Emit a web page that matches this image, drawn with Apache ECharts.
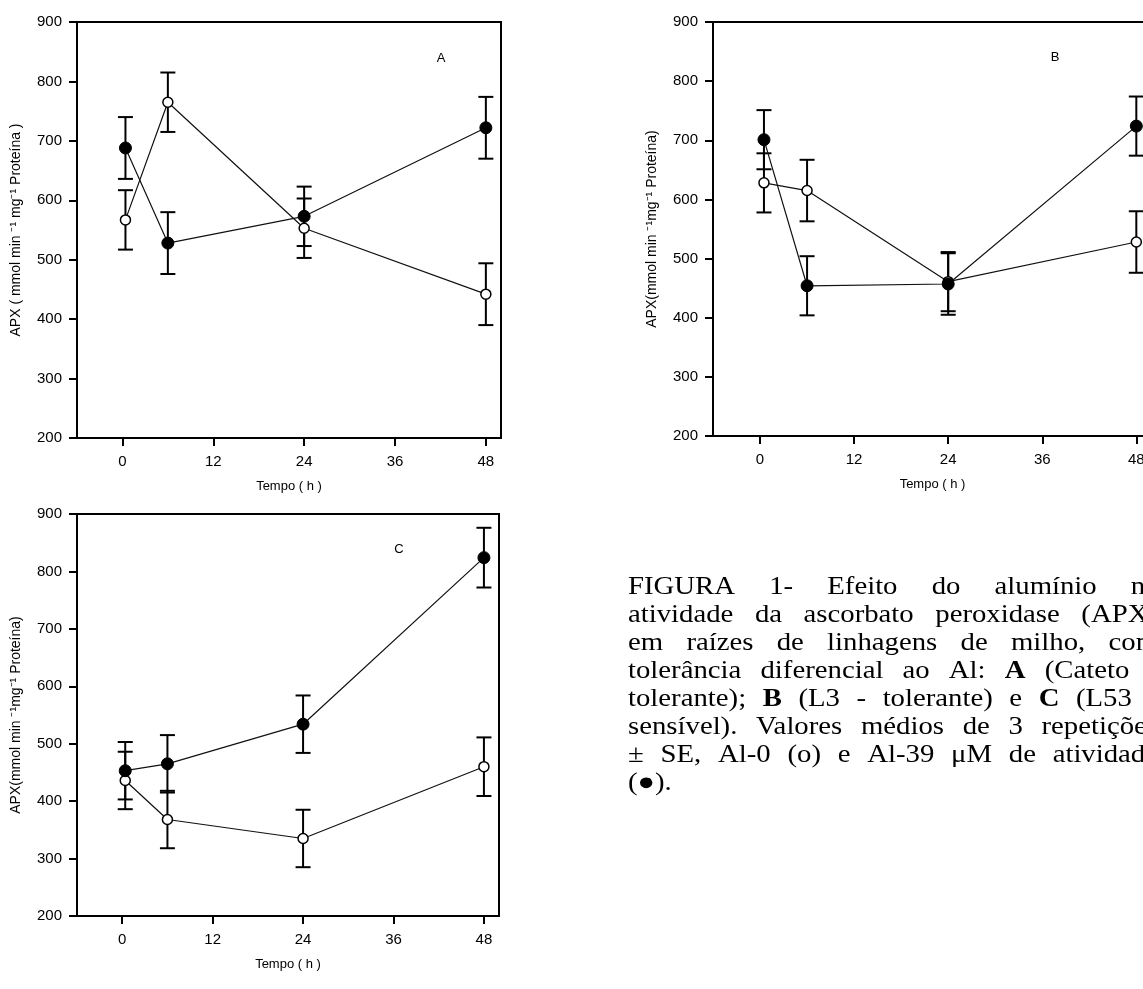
<!DOCTYPE html>
<html><head><meta charset="utf-8">
<script src="https://cdn.jsdelivr.net/npm/echarts@6/dist/echarts.min.js"></script>
<style>html,body{margin:0;padding:0;background:#fff}#c{width:1143px;height:989px}</style>
</head><body><div id="c"></div>
<script>
// ---- data ----
const xTicks = [0, 12, 24, 36, 48];
const yTicks = [200, 300, 400, 500, 600, 700, 800, 900];

const timeA = [0.4, 6, 24, 48];
const filledA = [688, 528, 573, 722];
const filledA_se = [52, 52, 50, 52];
const openA = [567, 765, 553, 442];
const openA_se = [50, 50, 50, 52];

const timeB = [0.5, 6, 24, 48];
const filledB = [701, 454, 457, 724];
const filledB_se = [50, 50, 52, 50];
const openB = [628, 615, 461, 528];
const openB_se = [50, 52, 50, 52];

const timeC = [0.4, 6, 24, 48];
const filledC = [453, 465, 534, 824];
const filledC_se = [50, 50, 50, 52];
const openC = [436, 368, 335, 460];
const openC_se = [50, 50, 50, 51];

const panelLetters = ['A', 'B', 'C'];
const yNames = ['APX ( mmol min \u207B\u00B9 mg\u207B\u00B9 Proteína )', 'APX(mmol min \u207B\u00B9mg\u207B\u00B9 Proteína)', 'APX(mmol min \u207B\u00B9mg\u207B\u00B9 Proteína)'];
const xName = 'Tempo ( h )';

const captionLines = [
  ['FIGURA','1-','Efeito','do','alumínio','na'],
  ['atividade','da','ascorbato','peroxidase','(APX)'],
  ['em','raízes','de','linhagens','de','milho,','com'],
  ['tolerância','diferencial','ao','Al:','*A','(Cateto','-'],
  ['tolerante);','*B','(L3','-','tolerante)','e','*C','(L53','-'],
  ['sensível).','Valores','médios','de','3','repetições'],
  ['±','SE,','Al-0','(o)','e','Al-39','μM','de','atividade'],
  ['(●).']
];

// ---- layout ----
const grids = [
  {left: 77, top: 22, width: 424, height: 416},
  {left: 713, top: 22, width: 439, height: 414},
  {left: 77, top: 514, width: 422, height: 402}
];
const panels = [
  {t: timeA, f: filledA, fse: filledA_se, o: openA, ose: openA_se},
  {t: timeB, f: filledB, fse: filledB_se, o: openB, ose: openB_se},
  {t: timeC, f: filledC, fse: filledC_se, o: openC, ose: openC_se}
];

const chart = echarts.init(document.getElementById('c'), null, {renderer: 'canvas'});

const xAxes = [], yAxes = [], series = [];
grids.forEach((g, i) => {
  xAxes.push({
    type: 'value', gridIndex: i, min: -6, max: 50,
    name: xName, nameLocation: 'middle', nameGap: 42,
    nameTextStyle: {fontFamily: 'Liberation Sans', fontSize: 13, color: '#000'},
    axisLine: {show: true, onZero: false, lineStyle: {color: '#000', width: 2}},
    axisTick: {show: true, length: 8, lineStyle: {color: '#000', width: 2}, customValues: xTicks},
    axisLabel: {margin: 16, fontFamily: 'Liberation Sans', fontSize: 15, color: '#000', customValues: xTicks},
    splitLine: {show: false}
  });
  yAxes.push({
    type: 'value', gridIndex: i, min: 200, max: 900, interval: 100,
    name: yNames[i], nameLocation: 'middle', nameGap: 54, nameRotate: 90,
    nameTextStyle: {fontFamily: 'Liberation Sans', fontSize: 14, color: '#000'},
    axisLine: {show: true, onZero: false, lineStyle: {color: '#000', width: 2}},
    axisTick: {show: true, length: 8, lineStyle: {color: '#000', width: 2}},
    axisLabel: {margin: 15, fontFamily: 'Liberation Sans', fontSize: 15, color: '#000'},
    splitLine: {show: false}
  });
  const p = panels[i];
  const errData = (vals, se) => p.t.map((x, k) => [x, vals[k] - se[k], vals[k] + se[k]]);
  const errSeries = (data) => ({
    type: 'custom', xAxisIndex: i, yAxisIndex: i, z: 1, silent: true,
    data: data,
    renderItem: (params, api) => {
      const x = api.value(0);
      const lo = api.coord([x, api.value(1)]);
      const hi = api.coord([x, api.value(2)]);
      const w = 7.5;
      const st = {stroke: '#000', lineWidth: 2};
      return {type: 'group', children: [
        {type: 'line', shape: {x1: hi[0], y1: hi[1], x2: lo[0], y2: lo[1]}, style: st},
        {type: 'line', shape: {x1: hi[0] - w, y1: hi[1], x2: hi[0] + w, y2: hi[1]}, style: st},
        {type: 'line', shape: {x1: lo[0] - w, y1: lo[1], x2: lo[0] + w, y2: lo[1]}, style: st}
      ]};
    }
  });
  series.push(errSeries(errData(p.o, p.ose)));
  series.push(errSeries(errData(p.f, p.fse)));
  series.push({
    type: 'line', xAxisIndex: i, yAxisIndex: i, z: 2,
    data: p.t.map((x, k) => [x, p.o[k]]),
    symbol: 'circle', symbolSize: 10, showAllSymbol: true,
    lineStyle: {color: '#111', width: 1.2},
    itemStyle: {color: '#fff', borderColor: '#000', borderWidth: 1.5},
    emphasis: {disabled: true}, animation: false
  });
  series.push({
    type: 'line', xAxisIndex: i, yAxisIndex: i, z: 3,
    data: p.t.map((x, k) => [x, p.f[k]]),
    symbol: 'circle', symbolSize: 12, showAllSymbol: true,
    lineStyle: {color: '#111', width: 1.2},
    itemStyle: {color: '#000', borderColor: '#000', borderWidth: 1},
    emphasis: {disabled: true}, animation: false
  });
});

// ---- caption (justified words) ----
const capFont = 25, capScale = 1.15, capL = 628, capR = 1158, capBase0 = 575, capLH = 28;
const cv = document.createElement('canvas').getContext('2d');
const graphics = [];
captionLines.forEach((words, li) => {
  const items = words.map(w => {
    const bold = w[0] === '*' && w.length > 1;
    const txt = bold ? w.slice(1) : w;
    const font = (bold ? 'bold ' : '') + capFont + 'px "Liberation Serif"';
    cv.font = font;
    return {txt, font, w: cv.measureText(txt).width * capScale};
  });
  const sum = items.reduce((a, b) => a + b.w, 0);
  const last = li === captionLines.length - 1;
  const gap = (!last && items.length > 1) ? (capR - capL - sum) / (items.length - 1) : capFont * 0.25 * capScale;
  let x = capL;
  const y = capBase0 + li * capLH;
  items.forEach(it => {
    graphics.push({type: 'text', x: x, y: y, scaleX: capScale, silent: true,
      style: {text: it.txt, font: it.font, fill: '#000', align: 'left', verticalAlign: 'alphabetic'}});
    x += it.w + gap;
  });
});
// panel letters
const letterPos = [[441, 58], [1055, 57], [399, 549]];
panelLetters.forEach((L, i) => {
  graphics.push({type: 'text', x: letterPos[i][0], y: letterPos[i][1], silent: true,
    style: {text: L, font: '13px "Liberation Sans"', fill: '#000', align: 'center', verticalAlign: 'middle'}});
});

chart.setOption({
  animation: false,
  backgroundColor: '#fff',
  grid: grids.map(g => Object.assign({show: true, borderColor: '#000', borderWidth: 2, backgroundColor: 'transparent', containLabel: false, outerBoundsMode: 'none'}, g)),
  xAxis: xAxes,
  yAxis: yAxes,
  series: series,
  graphic: graphics
});
</script></body></html>
